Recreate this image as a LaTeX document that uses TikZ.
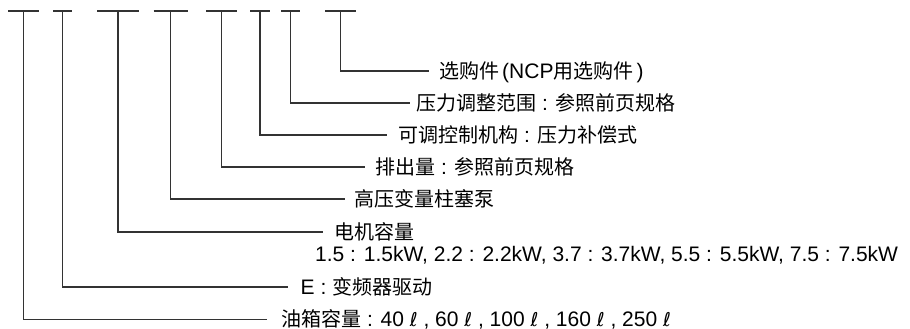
\documentclass[tikz,border=0pt]{standalone}
\usepackage{fontspec}
\setmainfont{Liberation Sans}
\newfontfamily\cjkf{Noto Sans CJK SC}
\newfontfamily\symf{DejaVu Sans}
\newcommand{\CJ}[1]{{\cjkf\fontsize{20}{24}\selectfont #1}}
\newcommand{\Lit}{{\symf\fontsize{19}{24}\selectfont ℓ}}
\begin{document}
\begin{tikzpicture}[x=1pt,y=-1pt,
  conn/.style={draw=black!80, line width=1.1pt},
  lab/.style={anchor=base west, inner sep=0pt, font=\fontsize{21}{25}\selectfont}]
\useasboundingbox (0,0) rectangle (910,329);
% top bars
\coordinate (t1) at (23.5,11);
\coordinate (t2) at (62.5,11);
\coordinate (t3) at (118,11);
\coordinate (t4) at (170.5,11);
\coordinate (t5) at (221.5,11);
\coordinate (t6) at (260,11);
\coordinate (t7) at (290.5,11);
\coordinate (t8) at (340.5,11);
\draw[conn] ([xshift=-15.5]t1) -- ([xshift=15.5]t1);
\draw[conn] ([xshift=-9.5]t2) -- ([xshift=9.5]t2);
\draw[conn] ([xshift=-21]t3) -- ([xshift=21]t3);
\draw[conn] ([xshift=-17]t4) -- ([xshift=17]t4);
\draw[conn] ([xshift=-15.5]t5) -- ([xshift=15.5]t5);
\draw[conn] ([xshift=-10]t6) -- ([xshift=10]t6);
\draw[conn] ([xshift=-9.5]t7) -- ([xshift=9.5]t7);
\draw[conn] ([xshift=-15.5]t8) -- ([xshift=15.5]t8);
% labels
\node[lab] (l8) at (439,78.5) {\CJ{选购件}\kern3pt(NCP\CJ{用选购件}\kern3pt)};
\node[lab] (l7) at (416,110.5) {\CJ{压力调整范围} : \CJ{参照前页规格}};
\node[lab] (l6) at (398,142.5) {\CJ{可调控制机构} : \CJ{压力补偿式}};
\node[lab] (l5) at (375,174.5) {\CJ{排出量} : \CJ{参照前页规格}};
\node[lab] (l4) at (354,206.5) {\CJ{高压变量柱塞泵}};
\node[lab] (l3) at (334,239.5) {\CJ{电机容量}};
\node[lab] (l3b) at (315,261.5) {1.5 : 1.5kW, 2.2 : 2.2kW, 3.7 : 3.7kW, 5.5 : 5.5kW, 7.5 : 7.5kW};
\node[lab] (l2) at (300.5,294.5) {E : \CJ{变频器驱动}};
\node[lab] (l1) at (281,326) {\CJ{油箱容量} : 40 \Lit\ , 60 \Lit\ , 100 \Lit\ , 160 \Lit\ , 250 \Lit};
% connectors
\draw[conn] (t1) |- ([shift={(-14,-6.5)}]l1.base west);
\draw[conn] (t2) |- ([shift={(-12.5,-7.5)}]l2.base west);
\draw[conn] (t3) |- ([shift={(-11,-7.5)}]l3.base west);
\draw[conn] (t4) |- ([shift={(-9,-7.5)}]l4.base west);
\draw[conn] (t5) |- ([shift={(-10,-7.5)}]l5.base west);
\draw[conn] (t6) |- ([shift={(-11,-7.5)}]l6.base west);
\draw[conn] (t7) |- ([shift={(-6,-7.5)}]l7.base west);
\draw[conn] (t8) |- ([shift={(-10,-7.5)}]l8.base west);
\end{tikzpicture}
\end{document}
